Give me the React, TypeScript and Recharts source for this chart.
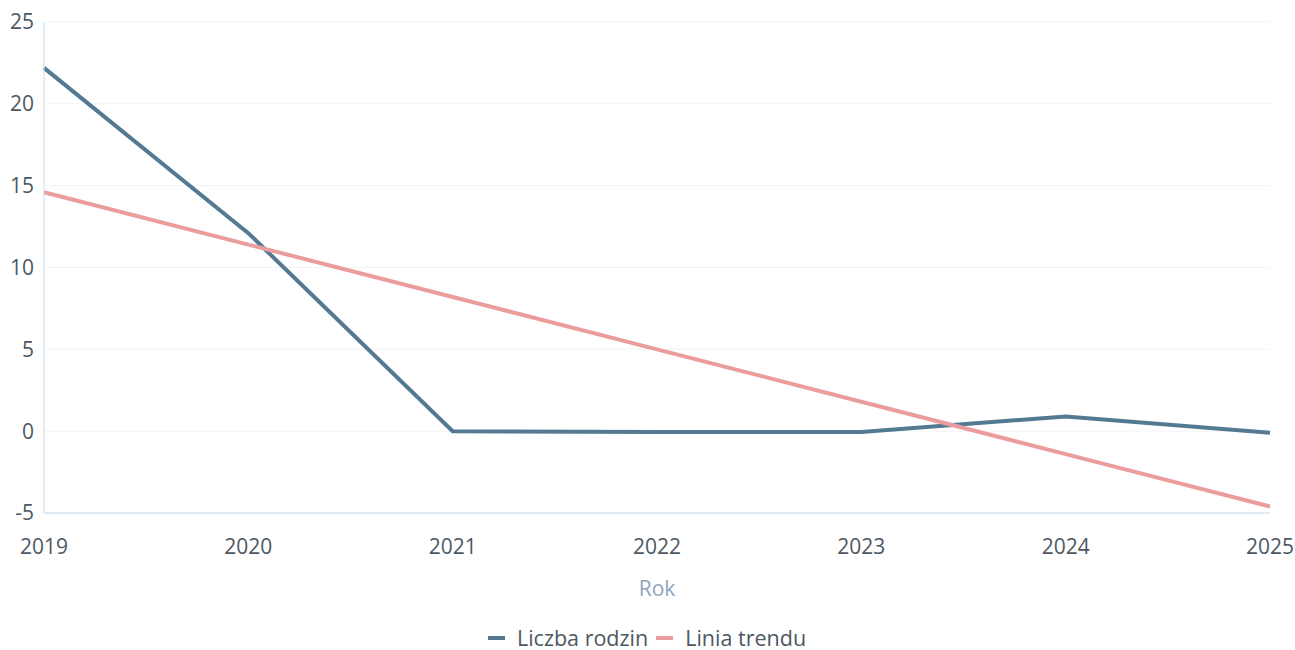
import { LineChart, Line, XAxis, YAxis, CartesianGrid, Legend } from "recharts"

const years = ["2019", "2020", "2021", "2022", "2023", "2024", "2025"]
const familyCount = [22.2, 12.1, 0, -0.05, -0.05, 0.9, -0.1]
const trendLine = [14.6, 11.4, 8.2, 5.0, 1.8, -1.4, -4.6]
const yTicks = [-5, 0, 5, 10, 15, 20, 25]

const BLUE = "#547a93"
const PINK = "#eb9d9e"
const FONT = "'Open Sans', sans-serif"

const chartData = years.map((year, i) => ({
  year,
  rodziny: familyCount[i],
  trend: trendLine[i],
}))

function LegendContent() {
  const items = [
    { label: "Liczba rodzin", color: BLUE },
    { label: "Linia trendu", color: PINK },
  ]
  return (
    <div style={{ display: "flex", justifyContent: "center", alignItems: "center", fontFamily: FONT, fontSize: 21.5, lineHeight: "22px", color: "#4d5863", marginTop: 19, marginLeft: 32 }}>
      {items.map((item) => (
        <span key={item.label} style={{ display: "inline-flex", alignItems: "center", marginRight: 8 }}>
          <span style={{ display: "inline-block", width: 17, height: 4, background: item.color, marginRight: 12 }} />
          {item.label}
        </span>
      ))}
    </div>
  )
}

export default function App() {
  return (
    <div style={{ position: "absolute", left: 0, top: 0, background: "#fff" }}>
      <LineChart width={1295} height={650} data={chartData} margin={{ top: 22, right: 25, left: 0, bottom: 5 }}>
        <CartesianGrid vertical={false} stroke="#f1f3f4" />
        <XAxis
          dataKey="year"
          axisLine={{ stroke: "#c8dbe7" }}
          tickLine={false}
          tick={{ fill: "#4d5863", fontSize: 21, fontFamily: FONT }}
          tickMargin={20}
          height={95}
          label={{ value: "Rok", position: "insideBottom", offset: 12, fill: "#8ea6bd", fontSize: 21, fontFamily: FONT }}
        />
        <YAxis
          domain={[-5, 25]}
          ticks={yTicks}
          width={44}
          axisLine={{ stroke: "#c8dbe7" }}
          tickLine={false}
          tick={{ fill: "#4d5863", fontSize: 21, fontFamily: FONT }}
          tickMargin={4}
        />
        <Legend verticalAlign="bottom" height={37} content={<LegendContent />} />
        <Line type="linear" dataKey="rodziny" name="Liczba rodzin" stroke={BLUE} strokeWidth={4} dot={false} isAnimationActive={false} />
        <Line type="linear" dataKey="trend" name="Linia trendu" stroke={PINK} strokeWidth={4} dot={false} isAnimationActive={false} />
      </LineChart>
    </div>
  )
}
